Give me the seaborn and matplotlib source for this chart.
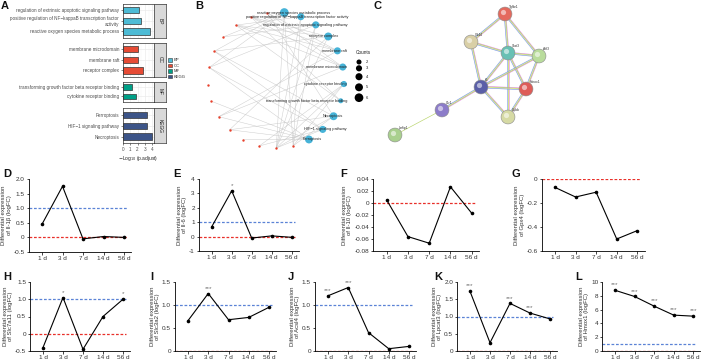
import numpy as np
import pandas as pd
import matplotlib.pyplot as plt
import seaborn as sns
from matplotlib.patches import Patch
from matplotlib.ticker import FuncFormatter

sns.set_style("ticks")
plt.rcParams['font.family'] = ['Liberation Sans', 'DejaVu Sans']
plt.rcParams['axes.unicode_minus'] = False

# ---------------------------------------------------------------------------
# data
# ---------------------------------------------------------------------------
# panel A: enrichment bars (-log10 p.adjust)
groups = ['BP', 'CC', 'MF', 'KEGG']
group_colors = ['#4DBBD5', '#E64B35', '#00A087', '#3C5488']
bp_terms = ['regulation of extrinsic apoptotic signaling pathway',
            'positive regulation of NF\u2212kappaB transcription factor\nactivity',
            'reactive oxygen species metabolic process']
bp_vals = [2.25, 2.4, 3.7]
cc_terms = ['membrane microdomain', 'membrane raft', 'receptor complex']
cc_vals = [2.0, 2.0, 2.8]
mf_terms = ['transforming growth factor beta receptor binding',
            'cytokine receptor binding']
mf_vals = [1.2, 1.8]
kegg_terms = ['Ferroptosis', 'HIF\u22121 signaling pathway', 'Necroptosis']
kegg_vals = [3.3, 3.3, 3.95]

# panel B: category-gene network
categories = ['reactive oxygen species metabolic process',
              'positive regulation of NF\u2212kappaB transcription factor activity',
              'regulation of extrinsic apoptotic signaling pathway',
              'receptor complex', 'membrane raft', 'membrane microdomain',
              'cytokine receptor binding',
              'transforming growth factor beta receptor binding',
              'Necroptosis', 'HIF\u22121 signaling pathway', 'Ferroptosis']
genes = ['Il1b', 'Il6', 'Il10', 'Gpx4', 'Slc7a11', 'Slc3a2', 'Acsl4',
         'Lpcat3', 'Hmox1', 'Stat3', 'Atf3', 'Tgfbr1', 'Cd44', 'Cybb']
cat_genes = [
    ['Il1b', 'Il6', 'Hmox1', 'Cybb', 'Stat3', 'Atf3'],
    ['Il1b', 'Il6', 'Tgfbr1', 'Cd44'],
    ['Il1b', 'Hmox1', 'Atf3', 'Il6'],
    ['Tgfbr1', 'Cd44', 'Stat3', 'Il6', 'Slc7a11'],
    ['Cd44', 'Tgfbr1', 'Cybb', 'Slc3a2'],
    ['Cd44', 'Tgfbr1', 'Cybb', 'Slc3a2'],
    ['Il1b', 'Il6', 'Il10'],
    ['Tgfbr1', 'Cd44'],
    ['Il1b', 'Il6', 'Stat3', 'Cybb', 'Slc7a11'],
    ['Il6', 'Stat3', 'Hmox1', 'Il10'],
    ['Gpx4', 'Slc7a11', 'Slc3a2', 'Acsl4', 'Hmox1'],
]
count_levels = [2, 3, 4, 5, 6]

# panel C: STRING network (layout in pixel space)
ppi_nodes = ['Tgfbr1', 'Cd44', 'Stat3', 'Atf3', 'Il6', 'Hmox1', 'Cybb', 'Il1r1', 'Lrrfip1']
ppi_x = [505, 471, 508, 539, 481, 526, 508, 442, 395]
ppi_y = [14, 42, 53, 56, 87, 89, 117, 110, 135]
ppi_colors = ['#E46A5E', '#D9CFA6', '#69C0B4', '#B9DC9C', '#5A5FA8',
              '#DE5C58', '#D6DAA4', '#8C7CC9', '#A9D08E']
ppi_edges = [('Tgfbr1', 'Cd44'), ('Tgfbr1', 'Stat3'), ('Tgfbr1', 'Atf3'),
             ('Cd44', 'Stat3'), ('Cd44', 'Il6'), ('Stat3', 'Atf3'),
             ('Stat3', 'Il6'), ('Stat3', 'Hmox1'), ('Stat3', 'Cybb'),
             ('Atf3', 'Il6'), ('Atf3', 'Hmox1'), ('Il6', 'Hmox1'),
             ('Il6', 'Cybb'), ('Hmox1', 'Cybb'), ('Il6', 'Il1r1'),
             ('Il1r1', 'Lrrfip1')]

# panels D-L: time course logFC
days = ['1 d', '3 d', '7 d', '14 d', '56 d']
il1b = [0.45, 1.75, -0.05, 0.03, 0.0]
il6 = [0.68, 3.18, -0.1, 0.05, -0.05]
il10 = [0.005, -0.056, -0.067, 0.027, -0.017]
gpx4 = [-0.07, -0.15, -0.11, -0.5, -0.43]
slc7a11 = [-0.4, 1.05, -0.45, 0.5, 1.0]
slc3a2 = [0.66, 1.25, 0.68, 0.73, 0.95]
acsl4 = [1.2, 1.38, 0.4, 0.05, 0.1]
lpcat3 = [1.73, 0.24, 1.38, 1.1, 0.93]
hmox1 = [8.8, 7.9, 6.5, 5.2, 5.05]

# ---------------------------------------------------------------------------
W, H = 708, 363
fig = plt.figure(figsize=(W / 100, H / 100), dpi=100)


def px_axes(x0, y0, x1, y1):
    return fig.add_axes([x0 / W, 1 - y1 / H, (x1 - x0) / W, (y1 - y0) / H])


def letter(x, y, s):
    fig.text(x / W, 1 - y / H, s, fontsize=8, fontweight='bold',
             ha='center', va='center', color='#111111')


# ---------------------------------------------------------------------------
# A
# ---------------------------------------------------------------------------
facets = [(bp_terms, bp_vals, 4, 37.7), (cc_terms, cc_vals, 42.7, 76.7),
          (mf_terms, mf_vals, 81.7, 101.7), (kegg_terms, kegg_vals, 108.3, 143.3)]
for k, (terms, vals, top, bot) in enumerate(facets):
    ax = px_axes(122.7, top, 154, bot)
    df = pd.DataFrame({'term': terms, 'val': vals})
    sns.barplot(data=df, x='val', y='term', orient='h', color=group_colors[k],
                saturation=1, edgecolor='#333333', linewidth=0.5, width=0.6, ax=ax)
    ax.set_xlim(-0.05, 4.25)
    ax.set_ylim(len(terms) - 0.4, -0.6)
    ax.set_xticks(range(5))
    ax.set_xticks(np.arange(0.5, 4.5, 1), minor=True)
    ax.grid(True, which='major', color='#EBEBEB', lw=0.5)
    ax.grid(True, which='minor', axis='x', color='#F3F3F3', lw=0.3)
    ax.set_axisbelow(True)
    for s in ax.spines.values():
        s.set_color('#333333')
        s.set_linewidth(0.5)
    ax.set_ylabel('')
    ax.set_xlabel('')
    ax.tick_params(axis='y', labelsize=3.3, length=1.5, width=0.4, pad=1,
                   colors='#333333', labelcolor='#4D4D4D')
    ax.tick_params(axis='x', which='both', length=0)
    if k < 3:
        ax.set_xticklabels([])
    else:
        ax.tick_params(axis='x', which='major', labelsize=3.3, length=1.5,
                       width=0.4, pad=1, labelcolor='#4D4D4D')
        ax.set_xlabel(r'$-$Log$_{10}$ (p.adjust)', fontsize=3.5,
                      labelpad=1.5, color='#222222')
    st = px_axes(154, top, 165.7, bot)
    st.set_facecolor('#D9D9D9')
    st.set_xticks([])
    st.set_yticks([])
    for s in st.spines.values():
        s.set_color('#333333')
        s.set_linewidth(0.5)
    st.text(0.5, 0.5, groups[k], rotation=-90, ha='center', va='center',
            fontsize=3.5, color='#1A1A1A', transform=st.transAxes)

handles = [Patch(facecolor=c, edgecolor='#333333', lw=0.4) for c in group_colors]
fig.legend(handles, groups, loc='upper left', bbox_to_anchor=(166 / W, 1 - 56 / H),
           frameon=False, fontsize=3, handlelength=0.9, handleheight=0.9,
           labelspacing=0.35, borderpad=0, handletextpad=0.4)
letter(5, 6, 'A')

# ---------------------------------------------------------------------------
# B
# ---------------------------------------------------------------------------
axB = px_axes(196, 0, 380, 160)
axB.set_xlim(196, 380)
axB.set_ylim(160, 0)
axB.axis('off')
cx, cy, R = 276, 80, 68
nodes = categories + genes
ang = np.deg2rad(83 - 360 / len(nodes) * np.arange(len(nodes)))
pos = {n: (cx + R * np.cos(a), cy - R * np.sin(a)) for n, a in zip(nodes, ang)}
for cat, gl in zip(categories, cat_genes):
    for g in gl:
        (x1, y1), (x2, y2) = pos[cat], pos[g]
        axB.plot([x1, x2], [y1, y2], color='#C4C4C4', lw=0.35, alpha=0.85, zorder=1)
gdf = pd.DataFrame({'x': [pos[g][0] for g in genes], 'y': [pos[g][1] for g in genes]})
sns.scatterplot(data=gdf, x='x', y='y', color='#E8412C', s=3, linewidth=0,
                ax=axB, zorder=3)
cdf = pd.DataFrame({'x': [pos[c][0] for c in categories],
                    'y': [pos[c][1] for c in categories],
                    'count': [len(g) for g in cat_genes]})
sns.scatterplot(data=cdf, x='x', y='y', size='count', sizes=(13, 39),
                size_norm=(2, 6), color='#46B3D8', linewidth=0, legend=False,
                ax=axB, zorder=3)
axB.set_xlabel('')
axB.set_ylabel('')
label_right = [330, 348, 348, 338, 347, 347, 347, 347, 343, 347, 322]
for c, xr in zip(categories, label_right):
    axB.text(xr, pos[c][1], c, ha='right', va='center', fontsize=2.8,
             color='#222222', zorder=4)
axB.text(356, 52, 'Counts', fontsize=3.4, color='#222222', va='center')
leg_y = [62, 68.3, 76.7, 87.3, 97.7]
ldf = pd.DataFrame({'x': [359] * 5, 'y': leg_y, 'count': count_levels})
sns.scatterplot(data=ldf, x='x', y='y', size='count', sizes=(13, 39),
                size_norm=(2, 6), color='black', linewidth=0, legend=False, ax=axB)
axB.set_xlabel('')
axB.set_ylabel('')
for yy, c in zip(leg_y, count_levels):
    axB.text(366, yy, str(c), fontsize=3, va='center', color='#222222')
letter(199, 6, 'B')

# ---------------------------------------------------------------------------
# C
# ---------------------------------------------------------------------------
axC = px_axes(380, 0, 580, 160)
axC.set_xlim(380, 580)
axC.set_ylim(160, 0)
axC.axis('off')
npos = {n: (x, y) for n, x, y in zip(ppi_nodes, ppi_x, ppi_y)}
edge_cols = ['#E58BE0', '#9DCB5C', '#E2E27A', '#7C9BE8']
for a, b in ppi_edges:
    (x1, y1), (x2, y2) = npos[a], npos[b]
    d = np.hypot(x2 - x1, y2 - y1)
    nx, ny = -(y2 - y1) / d, (x2 - x1) / d
    cols = edge_cols if b != 'Lrrfip1' else ['#B8D46A']
    offs = np.linspace(-0.9, 0.9, len(cols)) if len(cols) > 1 else [0]
    for col, o in zip(cols, offs):
        axC.plot([x1 + nx * o, x2 + nx * o], [y1 + ny * o, y2 + ny * o],
                 color=col, lw=0.45, zorder=1)
cdf2 = pd.DataFrame({'x': ppi_x, 'y': ppi_y, 'n': ppi_nodes})
sns.scatterplot(data=cdf2, x='x', y='y', hue='n', palette=ppi_colors, s=100,
                edgecolor='#8A8A8A', linewidth=0.4, legend=False, ax=axC, zorder=3)
axC.scatter(np.array(ppi_x) - 1.8, np.array(ppi_y) - 2.2, s=14, color='white',
            alpha=0.55, linewidth=0, zorder=4)
axC.set_xlabel('')
axC.set_ylabel('')
for n, x, y in zip(ppi_nodes, ppi_x, ppi_y):
    axC.text(x + 4, y - 6, n, fontsize=2.4, color='#333333', zorder=5)
letter(378, 6, 'C')

# ---------------------------------------------------------------------------
# D-L
# ---------------------------------------------------------------------------
xpos = np.arange(len(days))


def fmt(dec):
    return FuncFormatter(lambda v, p: '0' if abs(v) < 1e-9 else f'{v:.{dec}f}')


def line_panel(x1d, x56, ytop, ybot, ylim, yticks, dec, vals, gene, stars,
               blue, let, lx, ly):
    sp = (x56 - x1d) / 4
    ax = px_axes(x1d - 0.65 * sp, ytop, x1d + 4.35 * sp, ybot)
    ax.set_xlim(-0.65, 4.35)
    ax.set_ylim(*ylim)
    ax.hlines(0, -0.65, 4.15, colors='#E8302A', linestyles=(0, (2.2, 1.4)),
              lw=0.9, zorder=2)
    if blue:
        ax.hlines(1, -0.65, 4.15, colors='#5B83D6', linestyles=(0, (2.2, 1.4)),
                  lw=0.9, zorder=2)
    df = pd.DataFrame({'day': xpos, 'fc': vals})
    sns.lineplot(data=df, x='day', y='fc', color='black', lw=0.8, marker='o',
                 markersize=2.6, markeredgewidth=0, ax=ax, zorder=3)
    for i, s in enumerate(stars):
        if s:
            ax.annotate(s, (i, vals[i]), xytext=(0, 2), textcoords='offset points',
                        ha='center', va='bottom', fontsize=4.6, color='#6E6E6E')
    ax.set_xticks(xpos)
    ax.set_xticklabels(days)
    ax.set_yticks(yticks)
    ax.yaxis.set_major_formatter(fmt(dec))
    sns.despine(ax=ax)
    for s in ('left', 'bottom'):
        ax.spines[s].set_linewidth(0.6)
        ax.spines[s].set_color('black')
    ax.tick_params(labelsize=4.6, length=1.8, width=0.6, pad=1,
                   labelcolor='#333333')
    ax.set_xlabel('')
    ax.set_ylabel(f'Differential expression\nof {gene} (logFC)', fontsize=4.3,
                  color='#333333', labelpad=1.5, linespacing=1.05)
    letter(lx, ly, let)
    return ax


line_panel(42, 124, 179, 252, (-0.5, 2.0), np.arange(-0.5, 2.01, 0.5), 1, il1b,
           'Il-1\u03b2', [''] * 5, True, 'D', 7, 174)
line_panel(211.7, 291.7, 179, 251, (-1, 4), np.arange(-1, 5), 0, il6,
           'Il-6', ['', '*', '', '', ''], True, 'E', 177, 174)
line_panel(386.7, 471.7, 179, 251, (-0.08, 0.04), np.arange(-0.08, 0.041, 0.02), 2,
           il10, 'Il-10', [''] * 5, False, 'F', 344, 174)
line_panel(555, 637.3, 179, 251, (-0.6, 0), np.arange(-0.6, 0.01, 0.2), 1, gpx4,
           'Gpx4', [''] * 5, False, 'G', 516, 174)
line_panel(43, 123, 282, 351, (-0.5, 1.5), np.arange(-0.5, 1.51, 0.5), 1, slc7a11,
           'Slc7a11', ['', '*', '', '', '*'], True, 'H', 7, 277)
line_panel(188, 269, 282, 351, (0, 1.5), np.arange(0, 1.51, 0.5), 1, slc3a2,
           'Slc3a2', ['', '***', '', '', ''], True, 'I', 152, 277)
line_panel(328, 409, 282, 351, (0, 1.5), np.arange(0, 1.51, 0.5), 1, acsl4,
           'Acsl4', ['***', '***', '', '', ''], True, 'J', 291, 277)
line_panel(470, 550, 282, 351, (0, 2.0), np.arange(0, 2.01, 0.5), 1, lpcat3,
           'Lpcat3', ['***', '', '***', '***', ''], True, 'K', 438, 277)
line_panel(615, 693.3, 282, 351, (0, 10), np.arange(0, 11, 2), 0, hmox1,
           'Hmox1', ['***'] * 5, True, 'L', 579, 277)

fig.savefig('out.png', dpi=100)
